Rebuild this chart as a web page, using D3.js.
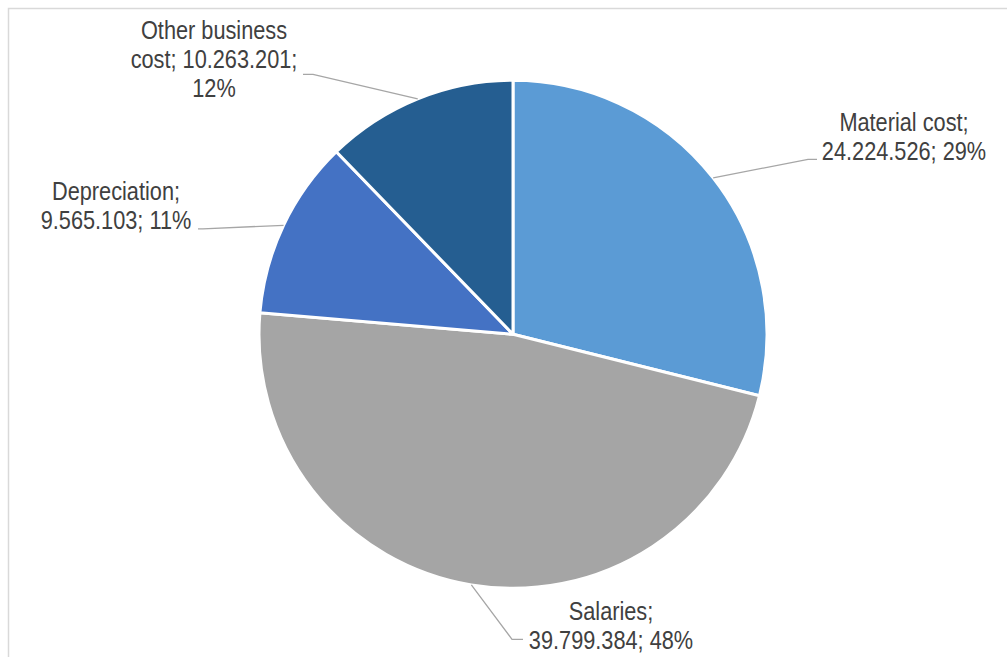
<!DOCTYPE html>
<html>
<head>
<meta charset="utf-8">
<script src="https://cdn.jsdelivr.net/npm/d3@7/dist/d3.min.js"></script>
<style>
  html, body { margin: 0; padding: 0; background: #ffffff; }
  svg { display: block; }
</style>
</head>
<body>
<svg id="chart" width="1007" height="657"></svg>
<script>
// ---- data ----
const categories = ["Material cost", "Salaries", "Depreciation", "Other business cost"];
const values = [24224526, 39799384, 9565103, 10263201];
const percentLabels = ["29%", "48%", "11%", "12%"];
const colors = ["#5B9BD5", "#A5A5A5", "#4472C4", "#255E91"];

// ---- layout (label placement relative to pie centre) ----
const labelLayout = [
  { tx: 391, ty: -203, lx: 304, ly: -175, side: 1 },
  { tx: 98,  ty: 286,  lx: 10,  ly: 305,  side: 1 },
  { tx: -397, ty: -134, lx: -315, ly: -105.5, side: -1 },
  { tx: -299, ty: -295, lx: -210, ly: -260, side: -1 }
];
const elbowLen = [9, 11, 5, 10];

const W = 1007, H = 657;
const cx = 513, cy = 334.3, R = 254;
const fontSize = 26, lineH = 29, wrapW = 186;

const svg = d3.select("#chart");

// chart frame
svg.append("rect")
  .attr("x", 8.5).attr("y", 8.5)
  .attr("width", W + 20).attr("height", H + 20)
  .attr("fill", "#ffffff")
  .attr("stroke", "#D9D9D9").attr("stroke-width", 1.5);

const data = categories.map((c, i) => ({ name: c, value: values[i], pct: percentLabels[i], color: colors[i], i }));

const pie = d3.pie().sort(null).value(d => d.value);
const arcs = pie(data);
const arc = d3.arc().innerRadius(0).outerRadius(R);

const g = svg.append("g").attr("transform", `translate(${cx},${cy})`);

g.selectAll("path.slice")
  .data(arcs)
  .join("path")
  .attr("class", "slice")
  .attr("d", arc)
  .attr("fill", d => d.data.color)
  .attr("stroke", "#ffffff")
  .attr("stroke-width", 3)
  .attr("stroke-linejoin", "round");

// font detection: narrow face if available, otherwise scaled regular
const cnv = document.createElement("canvas").getContext("2d");
function mw(f) { cnv.font = f; return cnv.measureText("24.224.526; 29% Material").width; }
const narrowOK = Math.abs(mw(`${fontSize}px 'Liberation Sans Narrow', monospace`) - mw(`${fontSize}px monospace`)) > 1;
const fontFamily = narrowOK ? "'Liberation Sans Narrow', 'Arial Narrow', sans-serif" : "'Liberation Sans', Arial, sans-serif";
const sx = narrowOK ? 1 : 0.836;

const fmtNum = v => d3.format(",")(v).replace(/,/g, ".");

function wrapText(str) {
  const words = str.split(" ");
  const lines = [];
  let cur = "";
  cnv.font = `${fontSize}px ${fontFamily}`;
  words.forEach(w => {
    const test = cur ? cur + " " + w : w;
    if (cnv.measureText(test).width * sx > wrapW && cur) { lines.push(cur); cur = w; }
    else cur = test;
  });
  if (cur) lines.push(cur);
  return lines;
}

// leader lines
arcs.forEach((a, i) => {
  const L = labelLayout[i];
  const mid = (a.startAngle + a.endAngle) / 2;
  const p0 = [Math.sin(mid) * R, -Math.cos(mid) * R];
  const end = [L.lx, L.ly];
  const elbow = [L.lx + (L.side > 0 ? -elbowLen[i] : elbowLen[i]), L.ly];
  g.append("polyline")
    .attr("points", [p0, elbow, end].map(p => p.join(",")).join(" "))
    .attr("fill", "none")
    .attr("stroke", "#A6A6A6")
    .attr("stroke-width", 1.3);
});

// labels
arcs.forEach((a, i) => {
  const L = labelLayout[i];
  const d = a.data;
  const full = `${d.name}; ${fmtNum(d.value)}; ${d.pct}`;
  const lines = wrapText(full);
  const t = g.append("text")
    .attr("transform", `translate(${L.tx},${L.ty}) scale(${sx},1)`)
    .attr("text-anchor", "middle")
    .attr("font-family", fontFamily)
    .attr("font-size", fontSize)
    .attr("fill", "#404040");
  lines.forEach((ln, k) => {
    t.append("tspan").attr("x", 0).attr("y", k * lineH).text(ln);
  });
});
</script>
</body>
</html>
